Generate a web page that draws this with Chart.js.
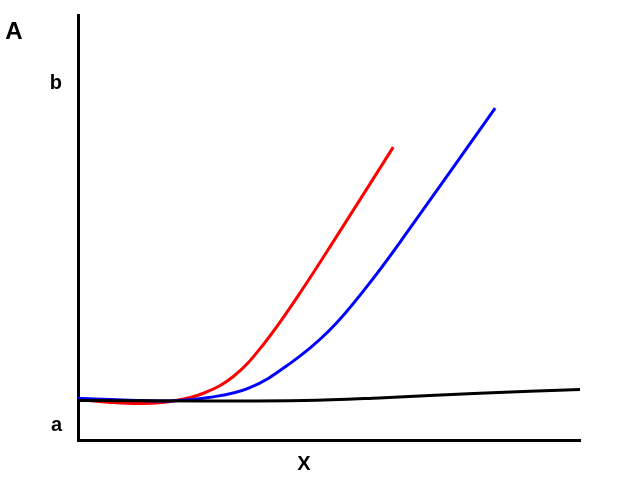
<!DOCTYPE html>
<html>
<head>
<meta charset="utf-8">
<script src="https://cdn.jsdelivr.net/npm/chart.js@4/dist/chart.umd.min.js"></script>
<style>
  html, body { margin: 0; padding: 0; background: #fff; }
  #wrap { width: 630px; height: 479px; }
</style>
</head>
<body>
<div id="wrap"><canvas id="c"></canvas></div>
<script>
// curve samples (x, y in 0..100 units)
const blackX = [0, 25, 45, 60, 80, 100];
const blackY = [9.3, 9.2, 9.3, 9.9, 11.0, 11.9];

const redX = [0, 6, 13, 19, 25, 31, 37, 44, 52, 62.8];
const redY = [9.6, 8.9, 8.6, 9.2, 11.0, 15.0, 22.6, 34.2, 48.8, 68.9];

const blueX = [0, 9, 18, 26, 34, 42, 50, 58, 66, 83.1];
const blueY = [9.8, 9.4, 9.2, 10.0, 12.2, 17.8, 25.7, 36.8, 49.6, 78.1];

const yTickValues = [3.3, 84];
const yTickLabels = ['a', 'b'];
const xTickValues = [45];
const xTickLabels = ['X'];
const yAxisLabel = 'A';

function pts(xs, ys) {
    return xs.map((x, i) => ({ x: x, y: ys[i] }));
}

function series(xs, ys, color) {
    return {
        data: pts(xs, ys),
        borderColor: color,
        borderWidth: 3,
        pointRadius: 0,
        tension: 0.4,
        fill: false
    };
}

// draws the "A" caption beside the top of the y axis
const cornerLabel = {
    id: 'cornerLabel',
    afterDraw(chart) {
        const ctx = chart.ctx;
        ctx.save();
        ctx.font = 'bold 24px "Liberation Sans", Arial, sans-serif';
        ctx.fillStyle = '#000';
        ctx.textAlign = 'center';
        ctx.textBaseline = 'middle';
        ctx.fillText(yAxisLabel, 14, 32);
        ctx.restore();
    }
};

const tickFont = { family: '"Liberation Sans", Arial, sans-serif', size: 20, weight: 'bold' };

new Chart(document.getElementById('c'), {
    type: 'line',
    data: {
        datasets: [
            series(blackX, blackY, '#000000'),
            series(blueX, blueY, '#0000ff'),
            series(redX, redY, '#ff0000')
        ]
    },
    options: {
        responsive: true,
        maintainAspectRatio: false,
        animation: false,
        layout: { padding: { top: 15, right: 50, left: 0, bottom: 0 } },
        plugins: {
            legend: { display: false },
            tooltip: { enabled: false }
        },
        scales: {
            x: {
                type: 'linear',
                min: 0,
                max: 100,
                grid: { display: false, drawTicks: false },
                border: { display: true, color: '#000', width: 3 },
                afterBuildTicks: s => { s.ticks = xTickValues.map(v => ({ value: v })); },
                afterFit: s => { s.height = 39; s.paddingLeft = 0; s.paddingRight = 0; },
                ticks: {
                    padding: 12,
                    color: '#000',
                    font: tickFont,
                    maxRotation: 0,
                    callback: v => xTickLabels[xTickValues.indexOf(v)]
                }
            },
            y: {
                type: 'linear',
                min: 0,
                max: 100,
                grid: { display: false, drawTicks: false },
                border: { display: true, color: '#000', width: 3 },
                afterBuildTicks: s => { s.ticks = yTickValues.map(v => ({ value: v })); },
                afterFit: s => { s.width = 78; s.paddingTop = 0; s.paddingBottom = 0; },
                ticks: {
                    padding: 16,
                    color: '#000',
                    font: tickFont,
                    callback: v => yTickLabels[yTickValues.indexOf(v)]
                }
            }
        }
    },
    plugins: [cornerLabel]
});
</script>
</body>
</html>
